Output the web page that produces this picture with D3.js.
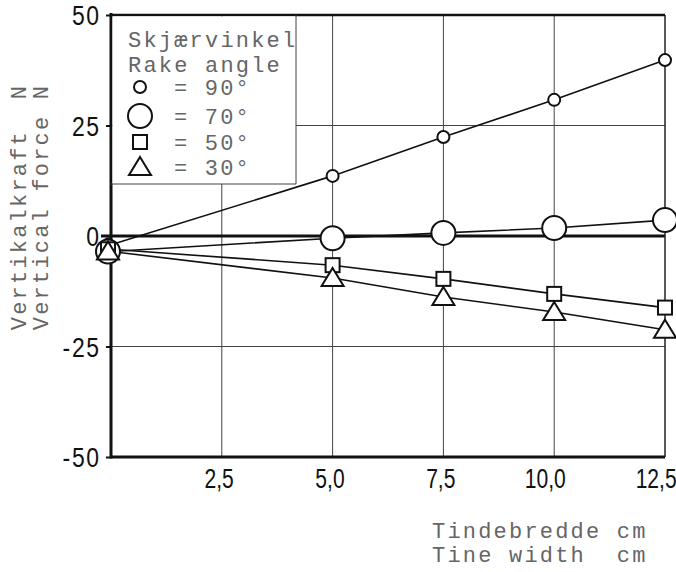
<!DOCTYPE html>
<html>
<head>
  <title>Vertical force vs tine width</title>
  <script src="https://d3js.org/d3.v7.min.js"></script>
  <style>
    body { margin: 0; background: #fff; }
    .mono { font-family: "Liberation Mono", "DejaVu Sans Mono", monospace; font-size: 22px; letter-spacing: 2.2px; fill: #666; white-space: pre; }
    .tick text { font-family: "Liberation Sans", Arial, sans-serif; font-size: 27px; fill: #111; }
  </style>
</head>
<body>
  <svg id="chart" width="676" height="572"></svg>

  <script>
    // Tine width (cm) and vertical force (N) for each rake angle
    const widths = [0, 5.0, 7.5, 10.0, 12.5];
    const force90 = [-2, 13.6, 22.4, 30.8, 39.8];
    const force70 = [-3.5, -0.5, 0.7, 1.8, 3.6];
    const force50 = [-3, -6.6, -9.7, -13.1, -16.2];
    const force30 = [-3.5, -9.5, -13.8, -17.2, -21.2];

    const xTicks = [2.5, 5.0, 7.5, 10.0, 12.5];
    const yTicks = [-50, -25, 0, 25, 50];
    const legendTitle = ["Skjærvinkel", "Rake angle"];
    const angleLabels = ["= 90°", "= 70°", "= 50°", "= 30°"];
    const yTitle = ["Vertikalkraft  N", "Vertical force N"];
    const xTitle = ["Tindebredde cm", "Tine width  cm"];

    const svg = d3.select("#chart");
    const x = d3.scaleLinear().domain([0, 12.5]).range([111, 665]);
    const y = d3.scaleLinear().domain([-50, 50]).range([457, 15]);

    // grid
    const grid = svg.append("g").attr("stroke", "#444").attr("stroke-width", 1);
    grid.selectAll(".vg").data(xTicks.slice(0, -1)).enter().append("line")
      .attr("x1", d => x(d)).attr("x2", d => x(d))
      .attr("y1", y(50)).attr("y2", y(-50));
    grid.selectAll(".hg").data([25, -25]).enter().append("line")
      .attr("x1", x(0)).attr("x2", x(12.5))
      .attr("y1", d => y(d)).attr("y2", d => y(d));

    // heavy zero line
    svg.append("line")
      .attr("x1", x(0) - 10).attr("x2", x(12.5))
      .attr("y1", y(0)).attr("y2", y(0))
      .attr("stroke", "#111").attr("stroke-width", 3);

    // frame
    svg.append("line").attr("x1", x(12.5)).attr("x2", x(12.5)).attr("y1", y(50)).attr("y2", y(-50))
      .attr("stroke", "#222").attr("stroke-width", 1.5);
    svg.append("line").attr("x1", x(0)).attr("x2", x(12.5)).attr("y1", y(50)).attr("y2", y(50))
      .attr("stroke", "#111").attr("stroke-width", 2.5);

    // axes (condensed look via horizontal scale on the labels)
    const yAxis = svg.append("g")
      .attr("transform", `translate(${x(0)},0)`)
      .call(d3.axisLeft(y).tickValues(yTicks).tickSize(5).tickPadding(7).tickFormat(d => String(d)));
    yAxis.select(".domain").remove();
    yAxis.selectAll(".tick line").attr("stroke", "#111").attr("stroke-width", 2);
    yAxis.selectAll(".tick text")
      .attr("dy", "0.36em").attr("letter-spacing", "2px")
      .attr("transform", "scale(0.85,1)");

    const xAxis = svg.append("g")
      .attr("transform", `translate(0,${y(-50)})`)
      .call(d3.axisBottom(x).tickValues(xTicks).tickSize(0)
        .tickFormat(d => d3.format(".1f")(d).replace(".", ",")));
    xAxis.select(".domain").remove();
    xAxis.selectAll(".tick text")
      .attr("x", -4).attr("y", 31).attr("dy", 0)
      .attr("transform", "scale(0.78,1)");
    xAxis.selectAll(".tick").filter(d => d >= 10).select("text").attr("x", -12);

    svg.append("line").attr("x1", x(0)).attr("x2", x(0)).attr("y1", y(50) - 2).attr("y2", y(-50) + 1.5)
      .attr("stroke", "#111").attr("stroke-width", 3);
    svg.append("line").attr("x1", x(0)).attr("x2", x(12.5)).attr("y1", y(-50)).attr("y2", y(-50))
      .attr("stroke", "#111").attr("stroke-width", 3);

    // legend box
    svg.append("rect")
      .attr("x", x(0) + 1.5).attr("y", y(50) + 1.5)
      .attr("width", 296 - x(0) - 1.5).attr("height", 184 - y(50) - 1.5)
      .attr("fill", "#fff").attr("stroke", "none");
    svg.append("path")
      .attr("d", `M${x(0)},184H296V${y(50)}`)
      .attr("fill", "none").attr("stroke", "#444").attr("stroke-width", 1);

    svg.selectAll(".ltitle").data(legendTitle).enter().append("text")
      .attr("class", "mono").attr("x", 128).attr("y", (d, i) => 47 + i * 25).text(d => d);

    const symbol = {
      small: g => g.append("circle").attr("r", 6),
      big: g => g.append("circle").attr("r", 12),
      square: g => g.append("rect").attr("x", -7).attr("y", -7).attr("width", 14).attr("height", 14),
      triangle: g => g.append("path").attr("d", "M0,-10L11,8H-11Z")
    };
    const series = [
      { values: force90, shape: "small" },
      { values: force70, shape: "big" },
      { values: force50, shape: "square" },
      { values: force30, shape: "triangle" }
    ];
    const legendRows = [87, 116, 142, 167];

    series.forEach((s, i) => {
      const g = svg.append("g").attr("transform", `translate(140,${legendRows[i]})`)
        .attr("fill", "#fff").attr("stroke", "#111").attr("stroke-width", 2);
      symbol[s.shape](g);
      svg.append("text").attr("class", "mono").attr("x", 174).attr("y", legendRows[i] + 8).text(angleLabels[i]);
    });

    // data lines
    const line = d3.line().x((d, i) => x(widths[i])).y(d => y(d));
    series.forEach(s => {
      svg.append("path").datum(s.values)
        .attr("d", line)
        .attr("fill", "none").attr("stroke", "#111").attr("stroke-width", 1.6);
    });

    // markers
    series.forEach(s => {
      s.values.forEach((v, i) => {
        const g = svg.append("g")
          .attr("transform", `translate(${x(widths[i]) - (i === 0 ? 3 : 0)},${y(v)})`)
          .attr("fill", "#fff").attr("stroke", "#111").attr("stroke-width", 2);
        symbol[s.shape](g);
      });
    });

    // axis titles
    yTitle.forEach((t, i) => {
      svg.append("text").attr("class", "mono")
        .attr("transform", `translate(${26 + i * 22},207) rotate(-90)`)
        .attr("text-anchor", "middle").text(t);
    });
    xTitle.forEach((t, i) => {
      svg.append("text").attr("class", "mono")
        .attr("x", 432).attr("y", 538 + i * 24).text(t);
    });
  </script>
</body>
</html>
